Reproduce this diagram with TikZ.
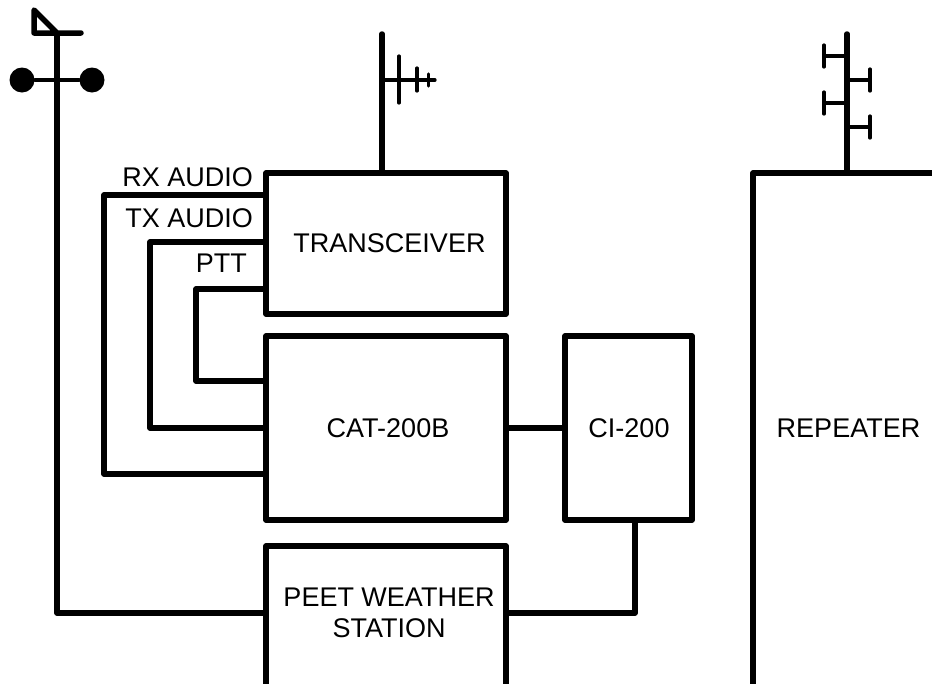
\documentclass[tikz,border=0pt]{standalone}
\usepackage{fontspec}
\setmainfont{Liberation Sans}
\usetikzlibrary{positioning,calc}
\tikzset{
    unitbox/.style={rectangle, draw=black, line width=5.5pt, line join=round, inner sep=0pt},
    wire/.style={draw=black, line width=5.5pt, line join=round},
    thinwire/.style={draw=black, line width=3.2pt, line cap=round},
    lbl/.style={inner sep=0pt, align=center, font=\fontsize{27}{31}\selectfont}
}
\begin{document}
\begin{tikzpicture}[x=1pt, y=-1pt]
    \useasboundingbox (0,0) rectangle (932,683);
    \clip (0,0) rectangle (932,683);

    % --- BOXES ---
    \node[unitbox, minimum width=240pt, minimum height=141pt] (trx) at (386,243.5) {};
    \node[unitbox, minimum width=240pt, minimum height=184pt] (cat) at (386,428) {};
    \node[unitbox, minimum width=127pt, minimum height=184pt] (ci) at (628.5,428) {};
    \node[unitbox, minimum width=240pt, minimum height=144pt] (peet) at (386,618) {};
    \node[unitbox, minimum width=200pt, minimum height=530pt] (rep) at (853,438) {};
    \node[lbl] (trxtext) at (389.5,243) {TRANSCEIVER};
    \node[lbl] (cattext) at (388,428) {CAT-200B};
    \node[lbl] (citext) at (629,428) {CI-200};
    \node[lbl] (peettext) at (389,613) {PEET WEATHER\\STATION};
    \node[lbl] (reptext) at (848.5,428) {REPEATER};

    % --- AUDIO / PTT LINES ---
    \node[lbl, anchor=east] (rxlbl) at (253,177) {RX AUDIO};
    \node[lbl, anchor=east] (txlbl) at (253,218) {TX AUDIO};
    \node[lbl, anchor=east] (pttlbl) at (247,263) {PTT};
    \coordinate (rxa) at (trx.west |- 0,195);
    \coordinate (rxb) at (cat.west |- 0,474);
    \coordinate (txa) at (trx.west |- 0,242);
    \coordinate (txb) at (cat.west |- 0,428);
    \coordinate (ptta) at (trx.west |- 0,289);
    \coordinate (pttb) at (cat.west |- 0,381);
    \draw[wire] (rxa) -- (104,195) |- (rxb);
    \draw[wire] (txa) -- (150,242) |- (txb);
    \draw[wire] (ptta) -- (196,289) |- (pttb);
    \draw[wire] (cat) -- (ci);
    \coordinate (cibot) at (635,520);
    \draw[wire] (peet.east |- 0,613) -| (cibot);

    % --- WIND VANE ---
    \coordinate (vanetop) at (57,33);
    \draw[wire] (peet.west |- 0,613) -| (vanetop);
    \draw[wire, line cap=round] (81,33) -- (34,33) -- (34,10) -- (vanetop);
    \node[circle, fill=black, minimum size=25pt, inner sep=0pt] (cupl) at (22,80) {};
    \node[circle, fill=black, minimum size=25pt, inner sep=0pt] (cupr) at (92,80) {};
    \draw[thinwire] (cupl) -- (cupr);

    % --- YAGI ON TRANSCEIVER ---
    \coordinate (yagitop) at (382,34);
    \draw[wire, line cap=round] (yagitop) -- (382,173);
    \draw[thinwire] (382,80) -- (435,80);
    \draw[thinwire] (399,56) -- (399,103);
    \draw[thinwire] (417,68) -- (417,91);
    \draw[thinwire] (428.5,74) -- (428.5,86);

    % --- REPEATER ANTENNA ---
    \coordinate (reptop) at (847,34);
    \draw[wire, line cap=round] (reptop) -- (847,173);
    \foreach \ya/\xa in {56/824, 103/824, 80/870, 127/870} {
        \draw[thinwire] (847,\ya) -- (\xa,\ya);
        \draw[thinwire] (\xa,\ya-11) -- (\xa,\ya+11);
    }
\end{tikzpicture}
\end{document}
